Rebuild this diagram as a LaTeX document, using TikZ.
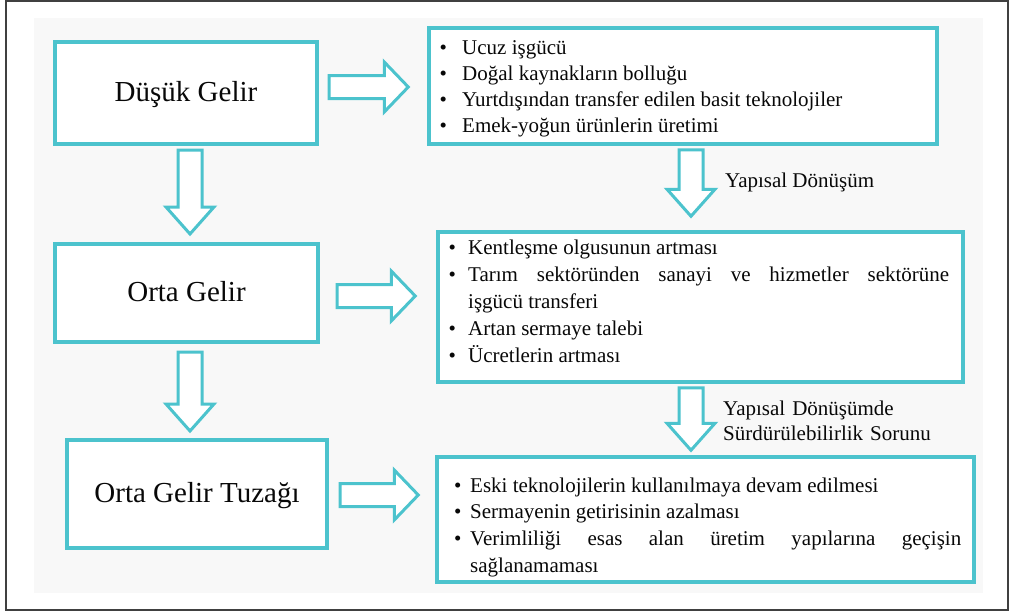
\documentclass[tikz,border=0pt]{standalone}
\usepackage{fontspec}
\usetikzlibrary{calc}
\newfontfamily\tnr{Liberation Serif}
\definecolor{cy}{RGB}{76,195,205}
\definecolor{bgc}{RGB}{248,248,248}
\definecolor{txt}{RGB}{8,8,8}
\hyphenpenalty=10000
\newcommand\bul[1]{\leavevmode\llap{\textbullet\hspace{#1}}}
\newcommand\blkR[2]{\draw[blk] let \p1=#1, \p2=#2 in (\x1,{\y1+11.5pt}) -- ({\x2-24pt},{\y1+11.5pt}) -- ({\x2-24pt},{\y1+25pt}) -- (\x2,\y1) -- ({\x2-24pt},{\y1-25pt}) -- ({\x2-24pt},{\y1-11.5pt}) -- (\x1,{\y1-11.5pt}) -- cycle;}
\newcommand\blkD[2]{\draw[blk] let \p1=#1, \p2=#2 in ({\x1-12pt},\y1) -- ({\x1-12pt},{\y2+27pt}) -- ({\x1-24pt},{\y2+27pt}) -- (\x1,\y2) -- ({\x1+24pt},{\y2+27pt}) -- ({\x1+12pt},{\y2+27pt}) -- ({\x1+12pt},\y1) -- cycle;}
\begin{document}
\begin{tikzpicture}[x=1pt,y=-1pt,
  box/.style={draw=cy, line width=4pt, fill=white, text=txt, font=\tnr\fontsize{29}{34}\selectfont, text height=20pt, text depth=4pt, inner sep=0pt},
  lbox/.style={draw=cy, line width=3.5pt, fill=white, inner sep=0pt},
  ltxt/.style={anchor=base west, inner sep=0pt, text=txt, font=\tnr\fontsize{21}{27}\selectfont},
  blk/.style={draw=cy, line width=3pt, fill=white, line join=miter}]
\useasboundingbox (0,0) rectangle (1012,613);
\fill[white] (0,0) rectangle (1012,613);
\draw[line width=1.5pt, draw=black!75] (6,1) rectangle (1008,610);
\fill[bgc] (34,18) rectangle (983,593);
% left boxes
\node[box, minimum width=262pt, minimum height=102pt] (d1) at (186,93) {Düşük Gelir};
\node[box, minimum width=263pt, minimum height=98pt] (d2) at (186.5,293) {Orta Gelir};
\node[box, minimum width=260pt, minimum height=108pt] (d3) at (197,494) {Orta Gelir Tuzağı};
% list boxes
\node[lbox, minimum width=508pt, minimum height=116pt] (l1) at (683,86) {};
\node[lbox, minimum width=525pt, minimum height=150pt] (l2) at (700.5,307) {};
\node[lbox, minimum width=537pt, minimum height=125pt] (l3) at (705.5,519.5) {};
% list texts
\node[ltxt, text width=460pt, align=justify, font=\tnr\fontsize{21}{26}\selectfont] (l1t) at (462,54) {\bul{15.3pt}Ucuz işgücü\par
\bul{15.3pt}Doğal kaynakların bolluğu\par
\bul{15.3pt}Yurtdışından transfer edilen basit teknolojiler\par
\bul{15.3pt}Emek-yoğun ürünlerin üretimi};
\node[ltxt, text width=481pt, align=justify] (l2t) at (468,254.5) {\bul{12.3pt}Kentleşme olgusunun artması\par
\bul{12.3pt}Tarım sektöründen sanayi ve hizmetler sektörüne\linebreak işgücü transferi\par
\bul{12.3pt}Artan sermaye talebi\par
\bul{12.3pt}Ücretlerin artması};
\node[ltxt, text width=491pt, align=justify, font=\tnr\fontsize{21}{26.7}\selectfont] (l3t) at (470,492) {\bul{8.8pt}Eski teknolojilerin kullanılmaya devam edilmesi\par
\bul{8.8pt}Sermayenin getirisinin azalması\par
\bul{8.8pt}Verimliliği esas alan üretim yapılarına geçişin\linebreak sağlanamaması};
% side labels
\node[ltxt] (y1) at (725,187) {Yapısal Dönüşüm};
\node[ltxt, text width=240pt, font=\tnr\fontsize{21}{25}\selectfont] (y2) at (723,415) {Yapısal Dönüşümde\par Sürdürülebilirlik Sorunu};
% arrow end points
\coordinate (r1s) at ($(d1.east)+(10,-6)$);
\coordinate (r1e) at ($(l1.west)+(-19,1)$);
\coordinate (r2s) at ($(d2.east)+(17,3)$);
\coordinate (r2e) at ($(l2.west)+(-21,-11)$);
\coordinate (r3s) at ($(d3.east)+(11,1)$);
\coordinate (r3e) at ($(l3.west)+(-17,-24.5)$);
\coordinate (v1s) at ($(d1.south)+(4,4)$);
\coordinate (v1e) at ($(d2.north)+(3.5,-8)$);
\coordinate (v2s) at ($(d2.south)+(3.5,8)$);
\coordinate (v2e) at ($(d3.north)+(-7,-7)$);
\coordinate (v3s) at ($(l1.south)+(8,4)$);
\coordinate (v3e) at ($(l2.north)+(-9.5,-14)$);
\coordinate (v4s) at ($(l2.south)+(-9.5,4)$);
\coordinate (v4e) at ($(l3.north)+(-14.5,-5)$);
\blkR{(r1s)}{(r1e)}
\blkR{(r2s)}{(r2e)}
\blkR{(r3s)}{(r3e)}
\blkD{(v1s)}{(v1e)}
\blkD{(v2s)}{(v2e)}
\blkD{(v3s)}{(v3e)}
\blkD{(v4s)}{(v4e)}
\end{tikzpicture}
\end{document}
